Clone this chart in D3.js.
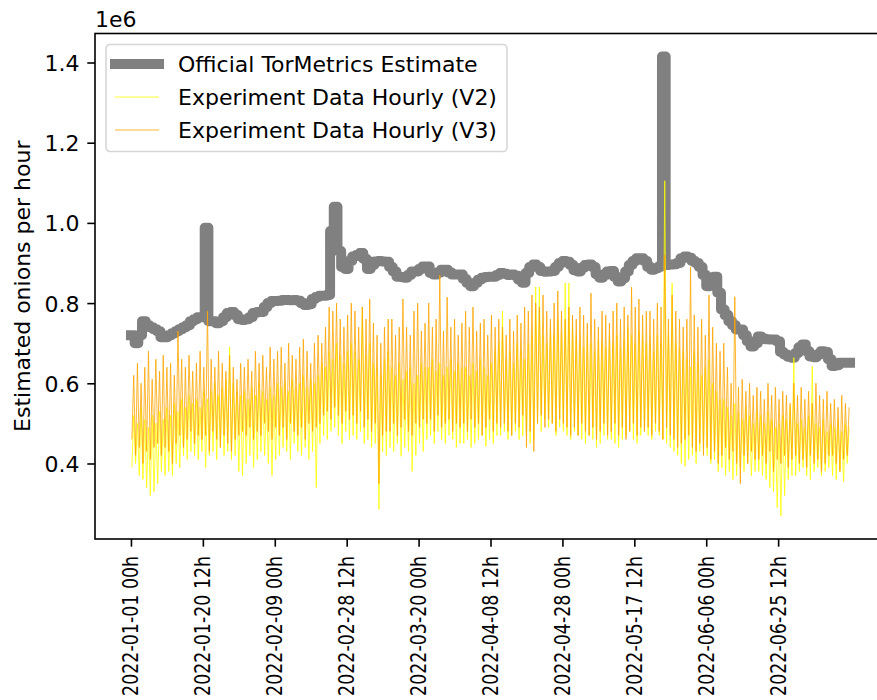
<!DOCTYPE html>
<html>
<head>
<meta charset="utf-8">
<script src="https://cdn.jsdelivr.net/npm/d3@7"></script>
<style>
  body { margin: 0; background: #fff; }
  svg { display: block; }
  text { font-family: "DejaVu Sans", sans-serif; fill: #000; }
</style>
</head>
<body>
<svg id="chart" width="877" height="700"></svg>
<script>
// ---- data (onions per hour, in thousands) ----
// Official TorMetrics estimate, one value per day from 2022-01-01
const officialEstimate = [
  720, 700, 720, 755, 745, 740, 735, 730, 715, 715,
  720, 725, 730, 735, 740, 745, 755, 760, 765, 765,
  988, 755, 755, 750, 755, 765, 775, 778, 770, 760,
  758, 760, 765, 775, 778, 778, 790, 800, 805, 805,
  806, 808, 808, 807, 808, 806, 800, 795, 797, 810,
  815, 818, 818, 820, 980, 1040, 930, 890, 885, 905,
  916, 920, 925, 910, 885, 895, 904, 905, 904, 903,
  890, 879, 866, 865, 863, 870, 879, 879, 885, 891,
  891, 875, 871, 876, 883, 883, 876, 871, 871, 871,
  860, 850, 842, 850, 858, 863, 865, 866, 866, 870,
  875, 873, 870, 871, 868, 858, 851, 875, 890, 896,
  890, 880, 878, 879, 880, 890, 900, 905, 903, 895,
  882, 879, 888, 895, 896, 890, 872, 863, 870, 879,
  880, 865, 854, 862, 879, 895, 905, 912, 912, 905,
  890, 883, 887, 891, 1415, 895, 896, 897, 900, 912,
  916, 913, 905, 900, 890, 870, 842, 850, 866, 826,
  784, 770, 755, 745, 734, 734, 720, 705, 692, 700,
  717, 712, 710, 709, 709, 705, 678, 672, 666, 664,
  675, 690, 697, 680, 667, 665, 672, 680, 678, 660,
  643, 645, 651, 651, 651
];

// Experiment data (V2): daily low and high of the hourly counts
const v2Low = [
  390, 400, 370, 360, 340, 320, 330, 350, 380, 370,
  380, 370, 400, 390, 420, 410, 430, 420, 410, 430,
  390, 420, 430, 410, 440, 420, 430, 410, 420, 380,
  370, 400, 420, 390, 410, 430, 420, 400, 370, 410,
  420, 440, 430, 410, 450, 430, 420, 440, 410, 430,
  340, 450, 470, 460, 480, 490, 470, 450, 480, 460,
  470, 460, 480, 450, 460, 440, 450, 286, 430, 420,
  440, 430, 450, 418, 440, 430, 380, 420, 450, 430,
  460, 470, 450, 480, 460, 450, 470, 460, 440, 450,
  450, 460, 440, 450, 460, 470, 443, 460, 450, 470,
  470, 480, 460, 470, 480, 460, 468, 470, 450, 460,
  500, 480, 510, 490, 500, 470, 490, 480, 470, 460,
  480, 470, 460, 450, 470, 460, 440, 450, 470, 460,
  460, 450, 440, 460, 470, 480, 460, 450, 470, 480,
  470, 460, 480, 470, 460, 450, 440, 430, 420, 400,
  393, 410, 420, 400, 430, 440, 420, 400, 410, 380,
  390, 370, 380, 360, 370, 390, 380, 400, 370, 380,
  380, 370, 360, 340, 330, 290, 269, 320, 360, 370,
  370, 380, 390, 370, 360, 380, 390, 370, 380, 390,
  370, 360, 380, 355, 400
];
const v2High = [
  520, 500, 540, 510, 490, 520, 500, 530, 510, 540,
  520, 550, 530, 560, 540, 570, 550, 560, 540, 580,
  560, 580, 600, 570, 590, 610, 690, 600, 580, 570,
  580, 560, 590, 570, 600, 580, 560, 590, 570, 600,
  590, 600, 580, 610, 590, 600, 620, 590, 610, 600,
  620, 650, 640, 680, 660, 700, 670, 650, 680, 700,
  680, 660, 790, 670, 700, 650, 640, 620, 660, 680,
  640, 620, 650, 610, 630, 640, 600, 620, 650, 640,
  640, 660, 630, 650, 620, 640, 660, 630, 650, 640,
  640, 620, 650, 630, 660, 640, 620, 650, 680, 700,
  780, 660, 680, 650, 700, 680, 660, 700, 720, 840,
  840, 720, 700, 740, 720, 760, 730, 850, 850, 740,
  720, 700, 690, 720, 700, 680, 710, 700, 690, 720,
  700, 720, 690, 710, 740, 720, 700, 730, 720, 700,
  700, 680, 720, 700, 1105, 720, 850, 700, 690, 680,
  660, 640, 680, 650, 620, 640, 660, 600, 580, 560,
  560, 540, 520, 550, 530, 510, 540, 520, 500, 530,
  520, 500, 530, 510, 490, 500, 520, 510, 540, 664,
  500, 510, 490, 520, 642, 500, 490, 510, 480, 500,
  490, 510, 480, 500, 490
];

// Experiment data (V3): daily low and high of the hourly counts
const v3Low = [
  460, 420, 440, 400, 430, 410, 440, 450, 420, 440,
  430, 400, 450, 470, 440, 460, 480, 450, 470, 460,
  470, 430, 480, 460, 440, 470, 450, 430, 460, 470,
  480, 470, 490, 460, 480, 470, 500, 480, 460, 490,
  470, 490, 460, 500, 480, 470, 490, 460, 500, 480,
  490, 500, 520, 530, 510, 540, 520, 500, 530, 510,
  520, 500, 530, 490, 510, 480, 500, 350, 470, 480,
  480, 500, 470, 490, 510, 480, 470, 500, 490, 510,
  500, 510, 480, 520, 490, 500, 510, 480, 500, 490,
  500, 480, 510, 490, 500, 470, 490, 510, 480, 500,
  490, 500, 480, 470, 500, 490, 520, 440, 480, 430,
  500, 520, 490, 510, 500, 480, 510, 500, 490, 470,
  490, 470, 500, 480, 470, 490, 460, 480, 500, 470,
  480, 500, 470, 490, 460, 480, 500, 470, 490, 480,
  490, 470, 500, 480, 460, 490, 470, 460, 440, 450,
  460, 470, 440, 430, 450, 420, 440, 410, 430, 400,
  420, 440, 410, 430, 400, 350, 420, 400, 430, 410,
  410, 420, 400, 430, 380, 410, 400, 420, 390, 410,
  420, 400, 410, 390, 420, 400, 410, 380, 400, 420,
  420, 400, 380, 410, 420
];
const v3High = [
  620, 650, 600, 640, 680, 610, 660, 630, 670, 640,
  650, 620, 730, 660, 640, 670, 630, 650, 680, 640,
  780, 660, 640, 680, 650, 630, 670, 640, 610, 650,
  640, 660, 630, 680, 650, 670, 640, 690, 660, 680,
  690, 650, 700, 670, 660, 690, 710, 680, 650, 700,
  720, 700, 740, 790, 780, 800, 760, 740, 770, 800,
  780, 740, 790, 760, 810, 750, 720, 700, 740, 760,
  760, 720, 740, 810, 740, 720, 780, 800, 730, 750,
  800, 740, 760, 870, 730, 815, 740, 760, 720, 750,
  780, 740, 790, 730, 750, 760, 720, 770, 740, 760,
  740, 720, 760, 730, 770, 750, 790, 780, 820, 800,
  790, 820, 780, 760, 800, 830, 780, 760, 790, 770,
  760, 790, 770, 750, 825, 760, 740, 780, 770, 750,
  780, 800, 760, 790, 770, 840, 790, 810, 770, 780,
  780, 760, 800, 790, 920, 760, 820, 780, 760, 740,
  760, 890, 770, 740, 760, 720, 820, 740, 700, 680,
  700, 640, 600, 816, 590, 610, 580, 600, 570, 590,
  580, 560, 600, 570, 590, 560, 580, 570, 550, 600,
  570, 590, 560, 580, 550, 600, 570, 560, 580, 550,
  560, 540, 570, 550, 540
];

const xTickLabels = [
  "2022-01-01 00h", "2022-01-20 12h", "2022-02-09 00h", "2022-02-28 12h",
  "2022-03-20 00h", "2022-04-08 12h", "2022-04-28 00h", "2022-05-17 12h",
  "2022-06-06 00h", "2022-06-25 12h"
];
const yTicks = [0.4, 0.6, 0.8, 1.0, 1.2, 1.4];   // in millions

const seriesNames = [
  "Official TorMetrics Estimate",
  "Experiment Data Hourly (V2)",
  "Experiment Data Hourly (V3)"
];

// ---- layout ----
const FS = 22;
const plot = { left: 95, right: 886, top: 33.5, bottom: 539 };
const TICK = 7.7, PAD = 7.7;
const OFFICIAL_WIDTH = 10;

const svg = d3.select("#chart");

const HOUR = 3600e3;
const t0 = Date.UTC(2022, 0, 1);
const atHour = h => new Date(t0 + h * HOUR);

// each daily estimate holds for the whole day
const officialPts = officialEstimate.flatMap((v, i) => [
  { t: atHour(24 * i), v: v * 1e3 },
  { t: atHour(24 * (i + 1)), v: v * 1e3 }
]);
function dailyRange(lo, hi) {
  const pts = [];
  lo.forEach((l, i) => {
    pts.push({ t: atHour(24 * i + 6), v: l * 1e3 });
    pts.push({ t: atHour(24 * i + 18), v: hi[i] * 1e3 });
  });
  return pts;
}
const v2Pts = dailyRange(v2Low, v2High);
const v3Pts = dailyRange(v3Low, v3High);

// x extent of the hourly record, padded 5% on each side
const spanH = 24 * officialEstimate.length;
const xPad = 0.05 * spanH;
const x = d3.scaleUtc()
  .domain([atHour(-xPad), atHour(spanH + xPad)])
  .range([plot.left, plot.right]);

const allV = [...officialPts, ...v2Pts, ...v3Pts].map(d => d.v);
const [vMin, vMax] = d3.extent(allV);
const yPad = 0.05 * (vMax - vMin);
const y = d3.scaleLinear()
  .domain([vMin - yPad, vMax + yPad])
  .range([plot.bottom, plot.top]);

const line = d3.line().x(d => x(d.t)).y(d => y(d.v));

// ---- series ----
svg.append("path")
  .datum(officialPts)
  .attr("d", line)
  .attr("fill", "none")
  .attr("stroke", "#808080")
  .attr("stroke-width", OFFICIAL_WIDTH)
  .attr("stroke-linejoin", "round")
  .attr("stroke-linecap", "square");

svg.append("path")
  .datum(v2Pts)
  .attr("d", line)
  .attr("fill", "none")
  .attr("stroke", "#ffff00")
  .attr("stroke-width", 0.8);

svg.append("path")
  .datum(v3Pts)
  .attr("d", line)
  .attr("fill", "none")
  .attr("stroke", "#ffa500")
  .attr("stroke-width", 0.8);

// ---- axes ----
const parseTick = d3.utcParse("%Y-%m-%d %Hh");
const xAxis = d3.axisBottom(x)
  .tickValues(xTickLabels.map(parseTick))
  .tickFormat(d3.utcFormat("%Y-%m-%d %Hh"))
  .tickSize(TICK)
  .tickSizeOuter(0);

const gx = svg.append("g")
  .attr("transform", `translate(0,${plot.bottom})`)
  .call(xAxis);
gx.select(".domain").remove();
gx.selectAll(".tick line").attr("stroke", "#000").attr("stroke-width", 1.6);
gx.selectAll(".tick text")
  .attr("transform", "rotate(-90)")
  .attr("text-anchor", "end")
  .attr("x", -(TICK + PAD + 1.5))
  .attr("y", 7)
  .attr("dy", null)
  .attr("textLength", 140)
  .attr("lengthAdjust", "spacingAndGlyphs")
  .style("font-size", FS + "px")
  .style("font-family", "DejaVu Sans")
  .attr("fill", "#000");

const yAxis = d3.axisLeft(y)
  .tickValues(yTicks.map(v => v * 1e6))
  .tickFormat(d => (d / 1e6).toFixed(1))
  .tickSize(TICK)
  .tickPadding(PAD)
  .tickSizeOuter(0);

const gy = svg.append("g")
  .attr("transform", `translate(${plot.left},0)`)
  .call(yAxis);
gy.select(".domain").remove();
gy.selectAll(".tick line").attr("stroke", "#000").attr("stroke-width", 1.6);
gy.selectAll(".tick text")
  .attr("dy", "0.36em")
  .style("font-size", FS + "px")
  .style("font-family", "DejaVu Sans")
  .attr("fill", "#000");

// spines
svg.append("rect")
  .attr("x", plot.left)
  .attr("y", plot.top)
  .attr("width", plot.right - plot.left)
  .attr("height", plot.bottom - plot.top)
  .attr("fill", "none")
  .attr("stroke", "#000")
  .attr("stroke-width", 1.6);

// offset text and y label
svg.append("text")
  .attr("x", plot.left)
  .attr("y", 27)
  .style("font-size", FS + "px")
  .text("1e6");

svg.append("text")
  .attr("transform", `translate(30,${(plot.top + plot.bottom) / 2}) rotate(-90)`)
  .attr("text-anchor", "middle")
  .style("font-size", FS + "px")
  .text("Estimated onions per hour");

// ---- legend ----
const legend = svg.append("g").attr("transform", "translate(106,44.5)");
legend.append("rect")
  .attr("width", 401)
  .attr("height", 107)
  .attr("rx", 4)
  .attr("fill", "#fff")
  .attr("fill-opacity", 0.8)
  .attr("stroke", "#d6d6d6")
  .attr("stroke-width", 1.6);

const legendStyles = [
  { color: "#808080", width: OFFICIAL_WIDTH, cap: "square" },
  { color: "#ffff00", width: 0.8, cap: "butt" },
  { color: "#ffa500", width: 0.8, cap: "butt" }
];
seriesNames.forEach((name, i) => {
  const cy = 19.5 + i * 33;
  const st = legendStyles[i];
  legend.append("line")
    .attr("x1", 9).attr("x2", 53)
    .attr("y1", cy).attr("y2", cy)
    .attr("stroke", st.color)
    .attr("stroke-width", st.width)
    .attr("stroke-linecap", st.cap);
  legend.append("text")
    .attr("x", 72)
    .attr("y", cy + 8)
    .style("font-size", FS + "px")
    .text(name);
});
</script>
</body>
</html>
